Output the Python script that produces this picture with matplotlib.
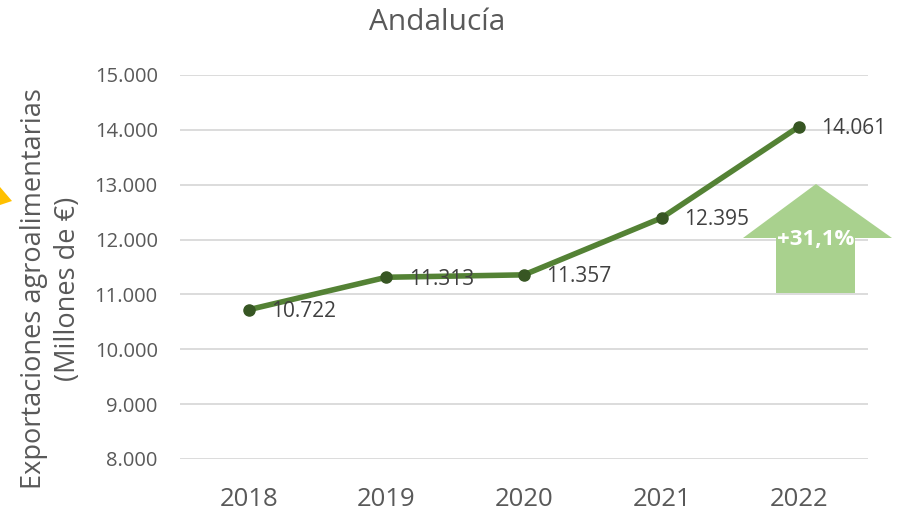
import numpy as np
import matplotlib
matplotlib.use('Agg')
import matplotlib.pyplot as plt
from matplotlib.patches import Polygon

plt.rcParams['font.family'] = ['Open Sans', 'DejaVu Sans']

# Exportaciones agroalimentarias de Andalucía (millones de euros)
years = ['2018', '2019', '2020', '2021', '2022']
values = [10722, 11313, 11357, 12395, 14061]
labels = ['10.722', '11.313', '11.357', '12.395', '14.061']
yticks = [8000, 9000, 10000, 11000, 12000, 13000, 14000, 15000]
ytick_labels = ['8.000', '9.000', '10.000', '11.000', '12.000', '13.000', '14.000', '15.000']
growth = '+31,1%'

fig = plt.figure(figsize=(9, 5.12), dpi=100)
ax = fig.add_axes([0.2, 1 - 459/512, 868/900 - 0.2, 384/512])

x = np.arange(len(years))
ax.plot(x, values, color='#548235', linewidth=4, zorder=3)
ax.plot(x, values, 'o', color='#375623', markersize=8, zorder=4)

for xi, v, lab in zip(x, values, labels):
    ax.annotate(lab, (xi, v), xytext=(16, -1.5), textcoords='offset points',
                ha='left', va='center', fontsize=15, color='#404040', zorder=5)

ax.set_xlim(-0.5, 4.5)
ax.set_ylim(8000, 15000)
ax.set_yticks(yticks)
ax.set_yticklabels(ytick_labels)
ax.set_xticks(x)
ax.set_xticklabels(years)
ax.grid(axis='y', color='#d9d9d9', linewidth=1.3)
ax.set_axisbelow(True)
for s in ax.spines.values():
    s.set_visible(False)
ax.tick_params(axis='y', length=0, labelsize=14.5, labelcolor='#595959', pad=16)
ax.tick_params(axis='x', length=0, labelsize=18.5, labelcolor='#595959', pad=20)

ax.set_ylabel('Exportaciones agroalimentarias\n(Millones de €)', fontsize=19.5,
              color='#595959', linespacing=1.3)
ax.yaxis.set_label_coords(-0.142, 0.443)

fig.text(437/900, 1 - 22/512, 'Andalucía', ha='center', va='center', fontsize=21.5, color='#595959')

# growth arrow (figure pixel coordinates)
def fp(px, py):
    return (px/900, 1 - py/512)

arrow = [fp(776, 293), fp(776, 238), fp(743, 238), fp(816, 184), fp(892, 238),
         fp(855, 238), fp(855, 293)]
fig.patches.append(Polygon(arrow, closed=True, transform=fig.transFigure,
                           facecolor='#a9d18e', edgecolor='none', zorder=1))
fig.text(816/900, 1 - 240/512, growth, ha='center', va='center', fontsize=16,
         fontweight='bold', color='white', zorder=6)

# cropped yellow shape at left edge
tri = [fp(0, 187), fp(12, 201), fp(0, 205)]
fig.patches.append(Polygon(tri, closed=True, transform=fig.transFigure,
                           facecolor='#ffc000', edgecolor='none'))

fig.savefig('out.png', dpi=100)
